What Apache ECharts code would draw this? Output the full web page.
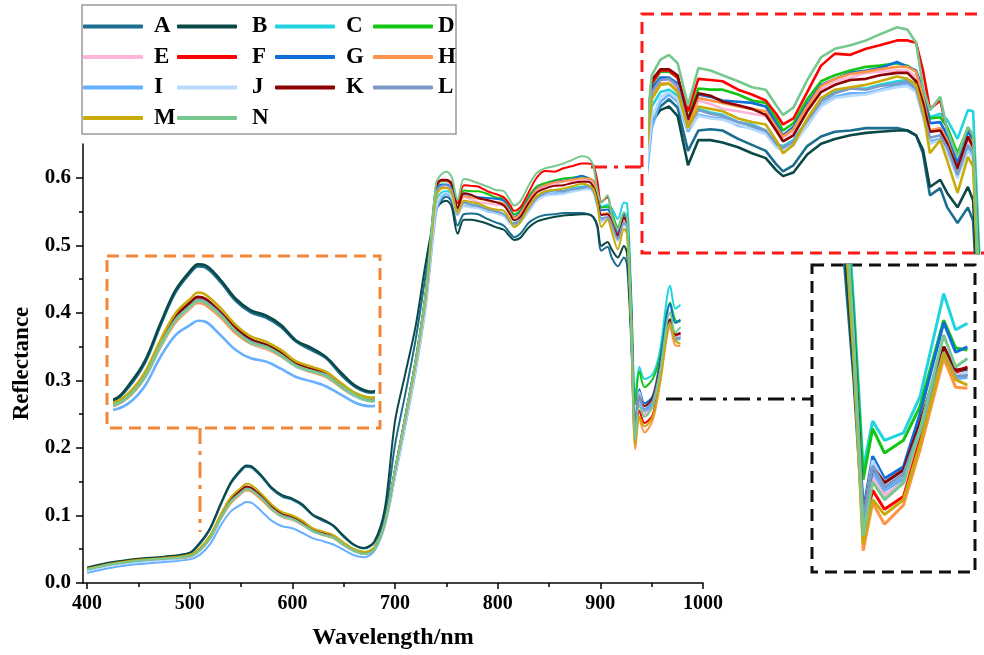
<!DOCTYPE html>
<html>
<head>
<meta charset="utf-8">
<script src="https://cdn.jsdelivr.net/npm/echarts@6/dist/echarts.min.js"></script>
<style>
  html, body { margin: 0; padding: 0; background: #fff; }
  #chart { width: 984px; height: 655px; }
</style>
</head>
<body>
<div id="chart"></div>
<script>
// wavelength grid (nm) shared by all samples
const wavelength = [400,425,450,475,500,510,520,530,540,550,555,560,570,580,590,600,610,620,630,640,650,660,670,680,690,700,710,720,730,740,745,750,755,761,767,774,781,790,798,806,812,816,822,830,838,846,855,864,872,882,888,893,897,901,907,911,917,923,926,930,934,938,943,951,958,968,973,978];

// reflectance of each sample
const seriesA = [0.022,0.030,0.035,0.038, 0.044,0.058,0.080,0.115,0.147,0.166,0.172,0.171,0.157,0.139,0.128,0.123,0.114,0.100,0.092,0.084,0.068,0.056,0.051,0.060, 0.100,0.205,0.280,0.360,0.458,0.552,0.566, 0.572,0.565,0.529,0.546,0.547,0.546,0.539,0.534,0.529,0.518,0.512,0.517,0.533,0.541,0.545,0.546,0.548,0.548,0.548,0.546,0.542,0.527,0.492,0.498,0.482,0.469,0.482,0.471,0.360,0.220,0.270,0.250,0.262,0.310,0.387,0.362,0.364];
const seriesB = [0.023,0.031,0.036,0.039, 0.045,0.060,0.082,0.117,0.149,0.168,0.174,0.173,0.159,0.141,0.130,0.125,0.116,0.101,0.094,0.085,0.070,0.057,0.052,0.062, 0.110,0.240,0.310,0.380,0.475,0.553,0.563, 0.566,0.558,0.517,0.538,0.538,0.536,0.532,0.527,0.523,0.513,0.508,0.511,0.526,0.535,0.539,0.542,0.544,0.545,0.546,0.546,0.542,0.530,0.499,0.505,0.494,0.482,0.499,0.488,0.370,0.225,0.275,0.255,0.266,0.312,0.390,0.365,0.368];
const seriesC = [0.019,0.027,0.032,0.035, 0.039,0.049,0.066,0.095,0.119,0.133,0.138,0.136,0.124,0.109,0.098,0.094,0.086,0.076,0.071,0.067,0.056,0.047,0.043,0.050, 0.087,0.163,0.240,0.320,0.419,0.566,0.578, 0.580,0.575,0.549,0.564,0.561,0.559,0.553,0.551,0.546,0.535,0.533,0.538,0.555,0.571,0.579,0.581,0.581,0.584,0.587,0.588,0.585,0.569,0.557,0.560,0.555,0.539,0.563,0.562,0.430,0.275,0.320,0.302,0.309,0.343,0.440,0.406,0.412];
const seriesD = [0.021,0.029,0.034,0.037, 0.041,0.050,0.069,0.098,0.123,0.137,0.142,0.140,0.128,0.113,0.102,0.097,0.090,0.080,0.075,0.070,0.059,0.050,0.046,0.053, 0.090,0.167,0.246,0.328,0.429,0.584,0.595, 0.595,0.590,0.556,0.581,0.580,0.580,0.576,0.571,0.569,0.556,0.546,0.552,0.572,0.587,0.592,0.596,0.599,0.600,0.602,0.600,0.595,0.575,0.556,0.557,0.549,0.527,0.548,0.542,0.420,0.265,0.313,0.290,0.302,0.334,0.415,0.389,0.387];
const seriesE = [0.020,0.028,0.033,0.036, 0.040,0.050,0.068,0.097,0.122,0.135,0.141,0.139,0.127,0.111,0.101,0.096,0.088,0.078,0.073,0.068,0.058,0.048,0.044,0.051, 0.088,0.165,0.243,0.324,0.425,0.575,0.588, 0.588,0.583,0.551,0.571,0.568,0.564,0.562,0.560,0.558,0.547,0.540,0.545,0.563,0.580,0.587,0.590,0.594,0.595,0.596,0.596,0.591,0.571,0.545,0.546,0.537,0.512,0.538,0.532,0.390,0.220,0.268,0.250,0.262,0.308,0.386,0.364,0.366];
const seriesF = [0.020,0.028,0.033,0.036, 0.041,0.050,0.068,0.097,0.122,0.136,0.142,0.140,0.127,0.112,0.101,0.096,0.088,0.077,0.072,0.067,0.057,0.048,0.044,0.051, 0.089,0.167,0.245,0.328,0.430,0.585,0.596, 0.596,0.590,0.562,0.589,0.588,0.587,0.580,0.576,0.571,0.560,0.551,0.556,0.578,0.600,0.610,0.609,0.614,0.617,0.621,0.621,0.619,0.596,0.564,0.571,0.546,0.516,0.546,0.538,0.400,0.215,0.255,0.237,0.249,0.302,0.386,0.366,0.371];
const seriesG = [0.020,0.028,0.033,0.036, 0.040,0.050,0.068,0.096,0.121,0.135,0.140,0.138,0.126,0.111,0.100,0.095,0.088,0.077,0.073,0.068,0.057,0.048,0.044,0.051, 0.089,0.166,0.244,0.326,0.427,0.581,0.590, 0.590,0.585,0.554,0.576,0.574,0.571,0.570,0.569,0.566,0.552,0.542,0.549,0.568,0.584,0.589,0.594,0.596,0.598,0.603,0.599,0.596,0.580,0.552,0.553,0.542,0.519,0.545,0.539,0.410,0.235,0.287,0.266,0.277,0.327,0.413,0.385,0.390];
const seriesH = [0.019,0.027,0.032,0.035, 0.039,0.048,0.066,0.094,0.118,0.132,0.137,0.135,0.123,0.108,0.098,0.093,0.086,0.076,0.071,0.066,0.056,0.047,0.043,0.049, 0.088,0.165,0.242,0.323,0.423,0.574,0.585, 0.585,0.580,0.552,0.573,0.571,0.569,0.566,0.564,0.562,0.549,0.541,0.547,0.566,0.583,0.589,0.593,0.595,0.597,0.599,0.599,0.595,0.574,0.546,0.548,0.538,0.513,0.541,0.535,0.390,0.198,0.243,0.223,0.241,0.293,0.379,0.352,0.351];
const seriesI = [0.015,0.023,0.028,0.031, 0.035,0.042,0.058,0.085,0.106,0.116,0.120,0.119,0.106,0.092,0.084,0.081,0.074,0.066,0.062,0.057,0.049,0.041,0.038,0.048, 0.084,0.156,0.232,0.312,0.410,0.548,0.570, 0.576,0.570,0.545,0.559,0.557,0.556,0.550,0.548,0.544,0.533,0.530,0.535,0.550,0.567,0.574,0.577,0.577,0.580,0.584,0.585,0.580,0.559,0.537,0.539,0.530,0.508,0.531,0.525,0.390,0.225,0.272,0.255,0.266,0.310,0.383,0.360,0.361];
const seriesJ = [0.018,0.026,0.031,0.034, 0.040,0.049,0.067,0.095,0.120,0.133,0.139,0.137,0.125,0.110,0.099,0.094,0.087,0.076,0.072,0.067,0.057,0.047,0.043,0.050, 0.085,0.158,0.235,0.315,0.414,0.556,0.574, 0.578,0.572,0.547,0.558,0.556,0.555,0.551,0.547,0.543,0.532,0.529,0.534,0.550,0.566,0.573,0.575,0.576,0.579,0.582,0.583,0.578,0.557,0.535,0.538,0.528,0.506,0.529,0.523,0.390,0.228,0.283,0.262,0.272,0.315,0.388,0.363,0.366];
const seriesK = [0.021,0.029,0.034,0.037, 0.041,0.051,0.069,0.098,0.124,0.138,0.143,0.141,0.128,0.113,0.102,0.097,0.089,0.079,0.074,0.069,0.058,0.049,0.045,0.052, 0.090,0.168,0.247,0.329,0.431,0.588,0.597, 0.597,0.592,0.555,0.577,0.575,0.570,0.567,0.564,0.559,0.546,0.537,0.542,0.562,0.578,0.584,0.588,0.589,0.592,0.594,0.594,0.587,0.569,0.545,0.546,0.535,0.514,0.541,0.532,0.400,0.230,0.277,0.262,0.274,0.318,0.390,0.368,0.370];
const seriesL = [0.020,0.028,0.033,0.036, 0.040,0.049,0.067,0.096,0.121,0.134,0.140,0.138,0.126,0.110,0.100,0.095,0.087,0.077,0.072,0.068,0.057,0.048,0.044,0.050, 0.088,0.165,0.243,0.325,0.426,0.578,0.588, 0.589,0.583,0.549,0.563,0.560,0.558,0.553,0.550,0.546,0.535,0.532,0.537,0.554,0.570,0.577,0.581,0.580,0.583,0.585,0.587,0.581,0.560,0.540,0.542,0.532,0.509,0.534,0.528,0.390,0.228,0.278,0.258,0.270,0.313,0.385,0.362,0.363];
const seriesM = [0.021,0.029,0.034,0.037, 0.042,0.052,0.071,0.101,0.127,0.141,0.147,0.145,0.132,0.116,0.105,0.100,0.092,0.081,0.076,0.071,0.060,0.050,0.046,0.053, 0.089,0.166,0.243,0.324,0.424,0.572,0.584, 0.585,0.578,0.548,0.566,0.564,0.562,0.556,0.553,0.551,0.538,0.527,0.534,0.556,0.573,0.580,0.582,0.584,0.587,0.591,0.589,0.584,0.563,0.527,0.538,0.521,0.494,0.524,0.516,0.380,0.205,0.246,0.232,0.246,0.298,0.384,0.359,0.354];
const seriesN = [0.020,0.028,0.033,0.036, 0.040,0.049,0.067,0.096,0.120,0.134,0.139,0.137,0.125,0.110,0.099,0.095,0.087,0.077,0.072,0.067,0.057,0.048,0.043,0.050, 0.090,0.168,0.247,0.330,0.433,0.592,0.605, 0.609,0.602,0.567,0.598,0.596,0.592,0.587,0.582,0.580,0.567,0.559,0.565,0.588,0.607,0.614,0.617,0.621,0.626,0.632,0.630,0.619,0.582,0.563,0.574,0.546,0.524,0.549,0.542,0.400,0.212,0.263,0.246,0.262,0.312,0.401,0.371,0.379];

const names = ['A','B','C','D','E','F','G','H','I','J','K','L','M','N'];
const values = [seriesA,seriesB,seriesC,seriesD,seriesE,seriesF,seriesG,seriesH,seriesI,seriesJ,seriesK,seriesL,seriesM,seriesN];
const colors = ['#1b6e8e','#0b4848','#1fd4df','#12c612','#ffb4d8','#ff0000','#0e6fd8','#ff9448','#66b0ff','#b8dafc','#8b0000','#7a9bc8','#c8ab0a','#76c88e'];

const xTicks = [400,500,600,700,800,900,1000];
const xMinorTicks = [450,550,650,750,850,950];
const yTicks = [0,0.1,0.2,0.3,0.4,0.5,0.6];
const yMinorTicks = [0.05,0.15,0.25,0.35,0.45,0.55];

values.forEach(function(v, i) {
  if (v.length !== wavelength.length) throw new Error('length ' + names[i] + ' ' + v.length);
});

const font = 'Liberation Serif';
const chart = echarts.init(document.getElementById('chart'), null, { renderer: 'canvas' });

// main plot + three zoomed insets
const grids = [
  { left: 83, top: 144, width: 620, height: 439 },
  { left: 115, top: 256, width: 258, height: 172 },
  { left: 650, top: 14, width: 330, height: 239 },
  { left: 812, top: 265, width: 163, height: 307 }
];
const insetX = [[500, 671], [739, 930], [912.4, 981.2]];
const insetY = [[0.0172, 0.182], [0.444, 0.643], [0.178, 0.467]];

const xAxes = [
  {
    gridIndex: 0, type: 'value', min: 396, max: 1000,
    axisLine: { onZero: false, lineStyle: { color: '#000', width: 1.5 } },
    axisTick: { inside: false, length: 6, customValues: xTicks, lineStyle: { color: '#000', width: 1.5 } },
    axisLabel: { customValues: xTicks, margin: 11, formatter: function (v) { return String(v); },
      color: '#000', fontFamily: font, fontWeight: 'bold', fontSize: 20 },
    splitLine: { show: false },
    name: 'Wavelength/nm', nameLocation: 'middle', nameGap: 43,
    nameTextStyle: { color: '#000', fontFamily: font, fontWeight: 'bold', fontSize: 24 }
  },
  {
    gridIndex: 0, type: 'value', min: 396, max: 1000, position: 'bottom',
    axisLine: { show: false },
    axisTick: { length: 4, customValues: xMinorTicks, lineStyle: { color: '#000', width: 1.5 } },
    axisLabel: { show: false }, splitLine: { show: false }
  }
];
const yAxes = [
  {
    gridIndex: 0, type: 'value', min: 0, max: 0.65, position: 'left',
    axisLine: { show: true, onZero: false, lineStyle: { color: '#000', width: 1.5 } },
    axisTick: { show: true, length: 7, customValues: yTicks, lineStyle: { color: '#000', width: 1.5 } },
    axisLabel: { customValues: yTicks, margin: 12, formatter: function (v) { return v.toFixed(1); },
      color: '#000', fontFamily: font, fontWeight: 'bold', fontSize: 21 },
    splitLine: { show: false },
    name: 'Reflectance', nameLocation: 'middle', nameGap: 47, nameRotate: 90,
    nameTextStyle: { color: '#000', fontFamily: font, fontWeight: 'bold', fontSize: 23 }
  },
  {
    gridIndex: 0, type: 'value', min: 0, max: 0.65, position: 'left',
    axisLine: { show: false },
    axisTick: { show: true, length: 4, customValues: yMinorTicks, lineStyle: { color: '#000', width: 1.5 } },
    axisLabel: { show: false }, splitLine: { show: false }
  }
];
insetX.forEach(function (r, k) {
  xAxes.push({ gridIndex: k + 1, type: 'value', min: r[0], max: r[1], show: false, splitLine: { show: false } });
  yAxes.push({ gridIndex: k + 1, type: 'value', min: insetY[k][0], max: insetY[k][1], show: false, splitLine: { show: false } });
});

const axisFor = [0, 2, 3, 4];
const widthFor = [2, 2.6, 2.6, 3];
const smoothFor = [0.3, 0.35, false, false];
const series = [];
[0, 1, 2, 3].forEach(function (g) {
  names.forEach(function (n, i) {
    series.push({
      type: 'line', name: n,
      xAxisIndex: axisFor[g], yAxisIndex: axisFor[g],
      data: wavelength.map(function (w, j) { return [w, values[i][j]]; }),
      smooth: smoothFor[g],
      showSymbol: false, symbol: 'none', clip: true, silent: true,
      lineStyle: { color: colors[i], width: widthFor[g] },
      itemStyle: { color: colors[i] }
    });
  });
});

// legend laid out in four fixed columns
const legendCols = [
  { data: ['A','E','I','M'], left: 83, pad: 6 },
  { data: ['B','F','J','N'], left: 177, pad: 10 },
  { data: ['C','G','K'], left: 275, pad: 6 },
  { data: ['D','H','L'], left: 373, pad: 0 }
];
const legends = legendCols.map(function (c) {
  return {
    data: c.data, orient: 'vertical', left: c.left, top: 15, padding: 0,
    itemWidth: 60, itemHeight: 4, itemGap: 7.5, icon: 'roundRect', selectedMode: false,
    textStyle: { color: '#000', fontFamily: font, fontWeight: 'bold', fontSize: 23, lineHeight: 23,
      padding: [0, 0, 0, c.pad] }
  };
});

const dash = [12, 7];
const dashDot = [16, 7, 4, 7];
const graphics = [
  { type: 'rect', shape: { x: 82, y: 5, width: 374, height: 129 }, style: { fill: 'none', stroke: '#9a9a9a', lineWidth: 1.5 } },
  { type: 'rect', shape: { x: 107, y: 256, width: 273, height: 172 }, style: { fill: 'none', stroke: '#f0873a', lineWidth: 3, lineDash: dash } },
  { type: 'line', shape: { x1: 200, y1: 428, x2: 200, y2: 532 }, style: { stroke: '#f0873a', lineWidth: 3, lineDash: dashDot } },
  { type: 'rect', shape: { x: 642, y: 14, width: 360, height: 239 }, style: { fill: 'none', stroke: '#ff1a1a', lineWidth: 3, lineDash: dash } },
  { type: 'line', shape: { x1: 591, y1: 167, x2: 642, y2: 167 }, style: { stroke: '#ff1a1a', lineWidth: 3, lineDash: dashDot } },
  { type: 'rect', shape: { x: 812, y: 265, width: 163, height: 307 }, style: { fill: 'none', stroke: '#111', lineWidth: 3, lineDash: dash } },
  { type: 'line', shape: { x1: 666, y1: 399, x2: 812, y2: 399 }, style: { stroke: '#111', lineWidth: 3, lineDash: dashDot } }
];

chart.setOption({
  animation: false,
  backgroundColor: '#fff',
  color: colors,
  grid: grids,
  xAxis: xAxes,
  yAxis: yAxes,
  legend: legends,
  graphic: graphics,
  series: series
});
</script>
</body>
</html>
